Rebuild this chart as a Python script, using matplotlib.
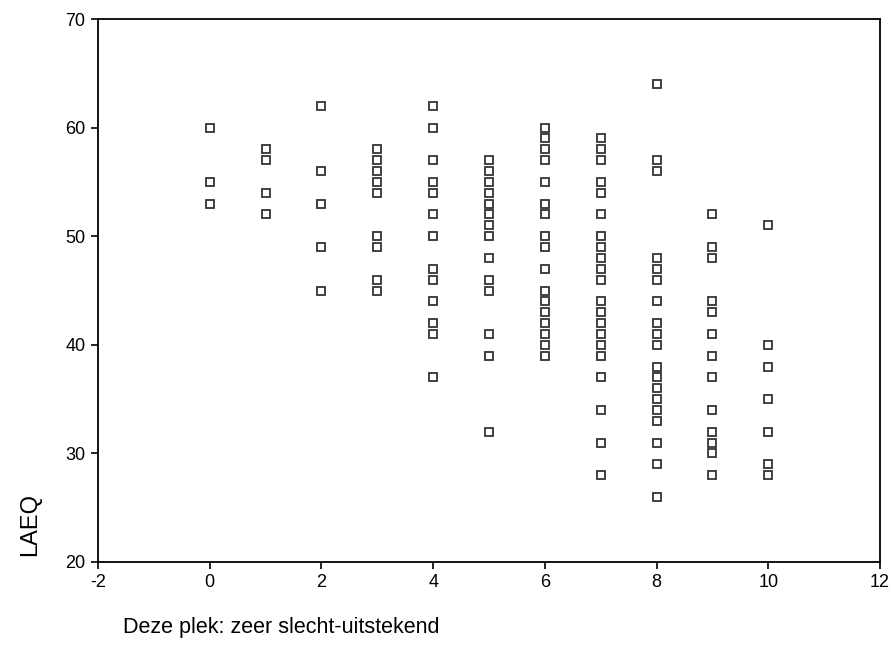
import matplotlib
matplotlib.use('Agg')
from matplotlib import pyplot as plt

plt.rcParams['font.family'] = ['Liberation Sans', 'DejaVu Sans']
plt.rcParams['axes.unicode_minus'] = False

# LAEQ values per score (0-10)
laeq = {
    0: [60, 55, 53],
    1: [58, 57, 54, 52],
    2: [62, 56, 53, 49, 45],
    3: [58, 57, 56, 55, 54, 50, 49, 46, 45],
    4: [62, 60, 57, 55, 54, 52, 50, 47, 46, 44, 42, 41, 37],
    5: [57, 56, 55, 54, 53, 52, 51, 50, 48, 46, 45, 41, 39, 32],
    6: [60, 59, 58, 57, 55, 53, 52, 50, 49, 47, 45, 44, 43, 42, 41, 40, 39],
    7: [59, 58, 57, 55, 54, 52, 50, 49, 48, 47, 46, 44, 43, 42, 41, 40, 39, 37, 34, 31, 28],
    8: [64, 57, 56, 48, 47, 46, 44, 42, 41, 40, 38, 37, 36, 35, 34, 33, 31, 29, 26],
    9: [52, 49, 48, 44, 43, 41, 39, 37, 34, 32, 31, 30, 28],
    10: [51, 40, 38, 35, 32, 29, 28],
}
xticks = [-2, 0, 2, 4, 6, 8, 10, 12]
yticks = [20, 30, 40, 50, 60, 70]

W, H = 895, 665
fig = plt.figure(figsize=(W / 100, H / 100), dpi=100)
ax = fig.add_axes([98 / W, 1 - 562 / H, (880 - 98) / W, (562 - 19) / H])

xs, ys = [], []
for score, vals in laeq.items():
    xs += [score] * len(vals)
    ys += vals
ax.plot(xs, ys, 's', ms=5.8, mfc='white', mec='#333333', mew=1.3, ls='none')

ax.set_xlim(-2, 12)
ax.set_ylim(20, 70)
ax.set_xticks(xticks)
ax.set_yticks(yticks)
ax.tick_params(direction='out', length=5, width=1.2, labelsize=13, colors='black')
ax.tick_params(axis='y', pad=4)
for s in ax.spines.values():
    s.set_linewidth(1.3)

fig.text(30 / W, 1 - 525 / H, 'LAEQ', rotation=90, ha='center', va='center', fontsize=17)
fig.text(123 / W, 1 - 628 / H, 'Deze plek: zeer slecht-uitstekend', ha='left', va='center', fontsize=15.5)

fig.savefig('out.png', dpi=100)
